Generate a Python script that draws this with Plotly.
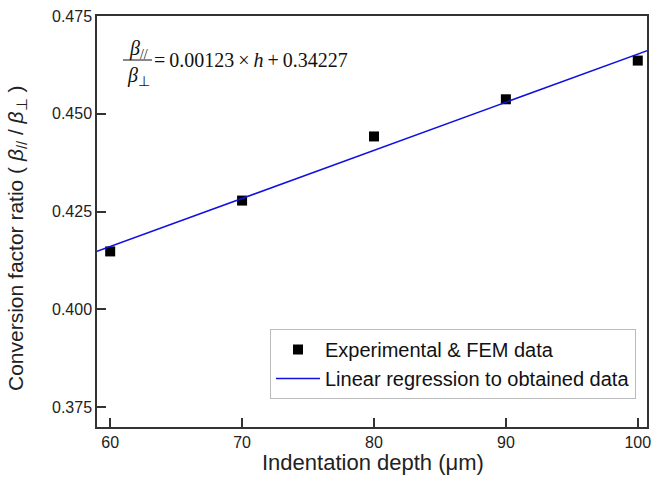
import plotly.graph_objects as go

depth = [60, 70, 80, 90, 100]
ratio = [0.4148, 0.4278, 0.4442, 0.4537, 0.4636]
fit_x = [59, 101]
fit_y = [0.4148, 0.4665]
x_ticks = [60, 70, 80, 90, 100]
y_ticks = [0.375, 0.400, 0.425, 0.450, 0.475]
y_tick_text = ["0.375", "0.400", "0.425", "0.450", "0.475"]

W, H = 651, 489
L, R, T, B = 97, 4, 16, 62
pw, ph = W - L - R, H - T - B

def px(x):
    return (x - L) / pw

def py(y):
    return (H - B - y) / ph

fig = go.Figure()
fig.add_trace(go.Scatter(x=depth, y=ratio, mode="markers",
                         marker=dict(symbol="square", size=10, color="black"),
                         name="Experimental & FEM data"))
fig.add_trace(go.Scatter(x=fit_x, y=fit_y, mode="lines",
                         line=dict(color="#1010e0", width=1.5),
                         name="Linear regression to obtained data"))

axis_common = dict(showgrid=False, zeroline=False, ticks="inside", ticklen=9,
                   tickwidth=1.5, tickcolor="#333", showline=True, linewidth=1.5,
                   linecolor="#333", mirror=True, automargin=False,
                   ticklabeloverflow="allow",
                   tickfont=dict(family="Arial, Liberation Sans", size=16, color="#222"))

fig.update_layout(
    width=W, height=H,
    margin=dict(l=L, r=R, t=T, b=B, autoexpand=False),
    paper_bgcolor="white", plot_bgcolor="white",
    xaxis=dict(range=[59.0, 100.7], tickvals=x_ticks, **axis_common),
    yaxis=dict(range=[0.3699, 0.475], tickvals=y_ticks, ticktext=y_tick_text, **axis_common),
    legend=dict(x=px(636), y=py(399), xanchor="right", yanchor="bottom",
                bordercolor="#bbb", borderwidth=1, bgcolor="white",
                font=dict(family="Arial, Liberation Sans", size=20, color="#111"),
                itemwidth=44, tracegroupgap=0),
    showlegend=True,
)

sans = dict(family="Arial, Liberation Sans", color="#222")
fig.add_annotation(xref="paper", yref="paper", x=px(373), y=py(463),
                   text="Indentation depth (μm)", showarrow=False,
                   font=dict(size=22, **sans), xanchor="center", yanchor="middle")
fig.add_annotation(xref="paper", yref="paper", x=px(17), y=py(239),
                   text="Conversion factor ratio ( <i>β</i><sub>//</sub> / <i>β</i><sub>⊥</sub> )",
                   showarrow=False, textangle=-90,
                   font=dict(size=21, **sans), xanchor="center", yanchor="middle")

serif = dict(family="Times New Roman, Liberation Serif", size=20, color="#111")
fig.add_annotation(xref="paper", yref="paper", x=px(138), y=py(49), text="<i>β</i><sub>//</sub>",
                   showarrow=False, font=serif, xanchor="center", yanchor="middle")
fig.add_annotation(xref="paper", yref="paper", x=px(138), y=py(76), text="<i>β</i><sub>⊥</sub>",
                   showarrow=False, font=serif, xanchor="center", yanchor="middle")
fig.add_shape(type="line", xref="paper", yref="paper", x0=px(123), x1=px(152),
              y0=py(60), y1=py(60), line=dict(color="#111", width=1))
fig.add_annotation(xref="paper", yref="paper", x=px(152), y=py(60),
                   text="=\u20090.00123\u2009×\u2009<i>h</i>\u2009+\u20090.34227",
                   showarrow=False, font=serif, xanchor="left", yanchor="middle")

fig.write_html("out.html", config={"displayModeBar": False},
               post_script="document.body.style.margin='0px';document.body.style.overflow='hidden';")
